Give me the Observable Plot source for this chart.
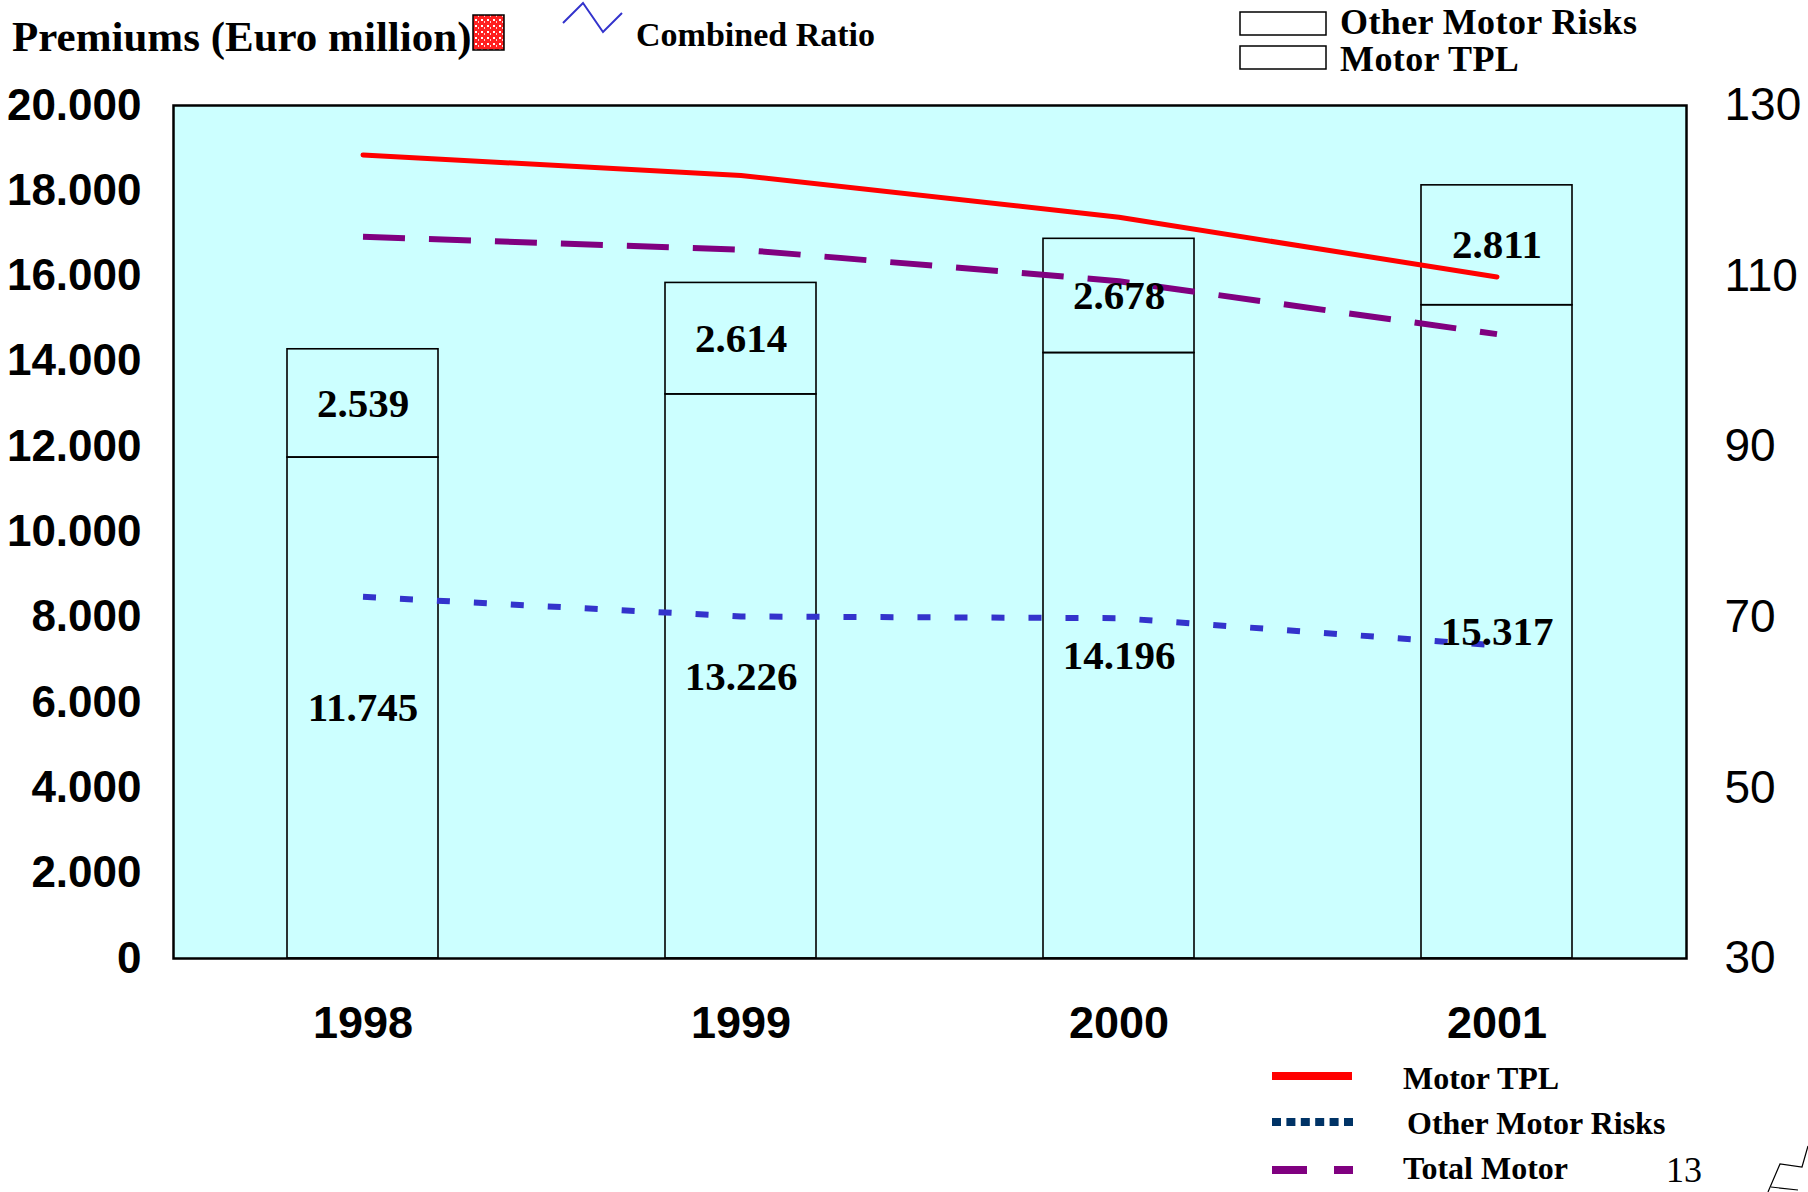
<!DOCTYPE html>
<html><head><meta charset="utf-8">
<script src="https://cdn.jsdelivr.net/npm/d3@7"></script>
<script src="https://cdn.jsdelivr.net/npm/@observablehq/plot@0.6"></script>
<style>
body{margin:0;background:#fff;}
#wrap{position:relative;width:1808px;height:1192px;overflow:hidden;background:#fff;}
#chart{position:absolute;left:0;top:0;}
#legend{position:absolute;left:0;top:0;}
</style></head><body>
<div id="wrap">
  <div id="chart"></div>
  <svg id="legend" width="1808" height="1192" xmlns="http://www.w3.org/2000/svg" font-family="'Liberation Serif','Times New Roman',serif" font-weight="bold">
    <defs>
      <pattern id="hatch" width="6" height="6" patternUnits="userSpaceOnUse">
        <rect width="6" height="6" fill="#ff2020"/>
        <rect x="1" y="1" width="2" height="2" fill="#fff"/>
        <rect x="4" y="3" width="1" height="2" fill="#ffd0d0"/>
      </pattern>
    </defs>
    <text x="12" y="51" font-size="43">Premiums (Euro million)</text>
    <rect x="473" y="15" width="31" height="35" fill="url(#hatch)" stroke="#000" stroke-width="1.5"/>
    <polyline points="563,23 583,3 603,32 622,13" fill="none" stroke="#3333CC" stroke-width="2"/>
    <text x="636" y="46" font-size="34">Combined Ratio</text>
    <rect x="1240" y="12" width="86" height="23" fill="none" stroke="#000" stroke-width="1.5"/>
    <rect x="1240" y="46" width="86" height="23" fill="none" stroke="#000" stroke-width="1.5"/>
    <text x="1340" y="34" font-size="36" letter-spacing="0.4">Other Motor Risks</text>
    <text x="1340" y="71" font-size="36" letter-spacing="0.4">Motor TPL</text>
    <line x1="1272" x2="1352" y1="1076" y2="1076" stroke="#FF0000" stroke-width="8"/>
    <line x1="1272" x2="1353" y1="1122" y2="1122" stroke="#003366" stroke-width="8" stroke-dasharray="9,5.4"/>
    <line x1="1272" x2="1353" y1="1170" y2="1170" stroke="#800080" stroke-width="8" stroke-dasharray="35,27"/>
    <text x="1403" y="1089" font-size="32">Motor TPL</text>
    <text x="1407" y="1134" font-size="32">Other Motor Risks</text>
    <text x="1403" y="1179" font-size="32">Total Motor</text>
    <text x="1666" y="1182" font-size="36" font-weight="normal">13</text>
    <path d="M1768,1192 L1780,1164 L1802,1167 L1808,1146 M1771,1187 L1798,1190" fill="none" stroke="#000" stroke-width="1.2"/>
  </svg>
</div>
<script>
const years = ["1998", "1999", "2000", "2001"];
const motorTPL = [11745, 13226, 14196, 15317];
const otherMotorRisks = [2539, 2614, 2678, 2811];
const crMotorTPL = [124.2, 121.8, 116.9, 109.9];
const crOtherMotorRisks = [72.4, 70.1, 69.9, 66.7];
const crTotalMotor = [114.6, 113.1, 109.4, 103.2];
const premiumTicks = [0, 2000, 4000, 6000, 8000, 10000, 12000, 14000, 16000, 18000, 20000];
const ratioTicks = [30, 50, 70, 90, 110, 130];

const ratioMin = 30, ratioMax = 130, premMax = 20000;
const toY = r => (r - ratioMin) / (ratioMax - ratioMin) * premMax;
const fromY = y => ratioMin + y / premMax * (ratioMax - ratioMin);
const fmt = d => d3.format(",")(d).replace(/,/g, ".");

const rows = years.map((year, i) => ({year, tpl: motorTPL[i], other: otherMotorRisks[i], top: motorTPL[i] + otherMotorRisks[i]}));
const ratioRows = arr => years.map((year, i) => ({year, r: arr[i]}));

const serif = "'Liberation Serif','Times New Roman',serif";
const sans = "'Liberation Sans',Arial,sans-serif";

const plot = Plot.plot({
  width: 1808, height: 1192,
  marginLeft: 173, marginRight: 122, marginTop: 105, marginBottom: 234,
  style: {background: "transparent", fontFamily: sans, color: "#000", overflow: "visible"},
  x: {type: "band", domain: years, paddingInner: 0.6, paddingOuter: 0.3, axis: null, label: null},
  y: {domain: [0, premMax], axis: null, label: null},
  marks: [
    Plot.frame({fill: "#CCFFFF", stroke: null}),
    Plot.barY(rows, {x: "year", y1: 0, y2: "tpl", fill: "none", stroke: "#000", strokeWidth: 1.6}),
    Plot.barY(rows, {x: "year", y1: "tpl", y2: "top", fill: "none", stroke: "#000", strokeWidth: 1.6}),
    Plot.line(ratioRows(crOtherMotorRisks), {x: "year", y: d => toY(d.r), stroke: "#3333CC", strokeWidth: 6, strokeDasharray: "13,24", strokeLinecap: "butt"}),
    Plot.line(ratioRows(crTotalMotor), {x: "year", y: d => toY(d.r), stroke: "#800080", strokeWidth: 6, strokeDasharray: "42,24", strokeLinecap: "butt"}),
    Plot.line(ratioRows(crMotorTPL), {x: "year", y: d => toY(d.r), stroke: "#FF0000", strokeWidth: 5}),
    Plot.text(rows, {x: "year", y: d => d.tpl / 2, text: d => fmt(d.tpl), fontFamily: serif, fontWeight: "bold", fontSize: 41, fill: "#000"}),
    Plot.text(rows, {x: "year", y: d => d.tpl + d.other / 2, text: d => fmt(d.other), fontFamily: serif, fontWeight: "bold", fontSize: 41, fill: "#000"}),
    Plot.frame({stroke: "#000", strokeWidth: 2.5}),
    Plot.axisY({ticks: premiumTicks, tickFormat: fmt, tickSize: 0, tickPadding: 32, fontSize: 44, fontWeight: "bold", fill: "#000", label: null}),
    Plot.axisY({anchor: "right", ticks: ratioTicks.map(toY), tickFormat: d => String(Math.round(fromY(d))), tickSize: 0, tickPadding: 38, fontSize: 46, fill: "#000", label: null}),
    Plot.axisX({tickSize: 0, tickPadding: 48, fontSize: 45, fontWeight: "bold", fill: "#000", label: null})
  ]
});
document.getElementById("chart").appendChild(plot);
</script>
</body></html>
